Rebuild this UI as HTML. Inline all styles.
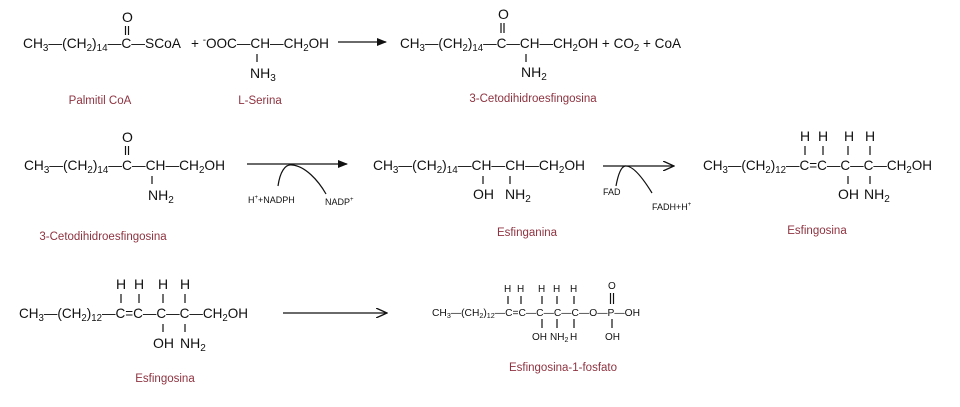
<!DOCTYPE html>
<html><head><meta charset="utf-8"><style>
html,body{margin:0;padding:0;background:#fff;width:960px;height:407px;overflow:hidden}
svg{display:block}
text{font-family:"Liberation Sans",sans-serif;fill:#111}
.m{font-size:14px}
.s{font-size:10px}
.lab{font-size:11.5px;fill:#8e3340}
.sm{font-size:9px}
.t{font-size:10px}
line,path{stroke:#111;stroke-width:1.2;fill:none}
</style></head><body>
<svg width="960" height="407" viewBox="0 0 960 407">
<defs><marker id="ah" markerWidth="10" markerHeight="8" refX="9" refY="4" orient="auto" markerUnits="userSpaceOnUse"><path d="M0,0 L10,4 L0,8 z" style="fill:#111;stroke:none"/></marker>
<marker id="ao" markerWidth="12" markerHeight="10" refX="11" refY="5" orient="auto" markerUnits="userSpaceOnUse"><path d="M0,0 L11,5 L0,10" style="fill:none;stroke:#111;stroke-width:1.3"/></marker></defs>

<!-- Row 1 -->
<text class="m" x="23" y="48" textLength="158" lengthAdjust="spacingAndGlyphs">CH<tspan class="s" dy="3">3</tspan><tspan dy="-3">—(CH</tspan><tspan class="s" dy="3">2</tspan><tspan dy="-3">)</tspan><tspan class="s" dy="3">14</tspan><tspan dy="-3">—C—SCoA</tspan></text>
<text class="m" x="122" y="22">O</text>
<line x1="125.5" y1="26" x2="125.5" y2="35"/><line x1="128.5" y1="26" x2="128.5" y2="35"/>
<text class="m" x="191" y="48" textLength="138" lengthAdjust="spacingAndGlyphs">+ <tspan class="s" dy="-5">-</tspan><tspan dy="5">OOC—CH—CH</tspan><tspan class="s" dy="3">2</tspan><tspan dy="-3">OH</tspan></text>
<line x1="257" y1="54" x2="257" y2="62"/>
<text class="m" x="250" y="78">NH<tspan class="s" dy="3">3</tspan></text>
<line x1="338" y1="42" x2="386" y2="42" marker-end="url(#ah)"/>
<text class="m" x="400" y="48" textLength="281" lengthAdjust="spacingAndGlyphs">CH<tspan class="s" dy="3">3</tspan><tspan dy="-3">—(CH</tspan><tspan class="s" dy="3">2</tspan><tspan dy="-3">)</tspan><tspan class="s" dy="3">14</tspan><tspan dy="-3">—C—CH—CH</tspan><tspan class="s" dy="3">2</tspan><tspan dy="-3">OH + CO</tspan><tspan class="s" dy="3">2</tspan><tspan dy="-3"> + CoA</tspan></text>
<text class="m" x="498" y="19">O</text>
<line x1="501" y1="23" x2="501" y2="33"/><line x1="504" y1="23" x2="504" y2="33"/>
<line x1="526" y1="54" x2="526" y2="62"/>
<text class="m" x="521" y="77">NH<tspan class="s" dy="3">2</tspan></text>
<text class="lab" x="100" y="104" text-anchor="middle">Palmitil CoA</text>
<text class="lab" x="260" y="104" text-anchor="middle">L-Serina</text>
<text class="lab" x="533" y="102" text-anchor="middle">3-Cetodihidroesfingosina</text>

<!-- Row 2 -->
<text class="m" x="24" y="170" textLength="201" lengthAdjust="spacingAndGlyphs">CH<tspan class="s" dy="3">3</tspan><tspan dy="-3">—(CH</tspan><tspan class="s" dy="3">2</tspan><tspan dy="-3">)</tspan><tspan class="s" dy="3">14</tspan><tspan dy="-3">—C—CH—CH</tspan><tspan class="s" dy="3">2</tspan><tspan dy="-3">OH</tspan></text>
<text class="m" x="122" y="142">O</text>
<line x1="125.5" y1="146" x2="125.5" y2="155"/><line x1="128.5" y1="146" x2="128.5" y2="155"/>
<line x1="152" y1="176" x2="152" y2="184"/>
<text class="m" x="148" y="200">NH<tspan class="s" dy="3">2</tspan></text>
<line x1="247" y1="164" x2="347" y2="164" marker-end="url(#ah)"/>
<path d="M278,186 C280,172 285,164 292,165 C305,166 318,180 326,194"/>
<text class="sm" x="248" y="203">H<tspan dy="-4" font-size="6">+</tspan><tspan dy="4">+NADPH</tspan></text>
<text class="sm" x="325" y="205">NADP<tspan dy="-4" font-size="6">+</tspan></text>
<text class="m" x="373" y="170" textLength="212" lengthAdjust="spacingAndGlyphs">CH<tspan class="s" dy="3">3</tspan><tspan dy="-3">—(CH</tspan><tspan class="s" dy="3">2</tspan><tspan dy="-3">)</tspan><tspan class="s" dy="3">14</tspan><tspan dy="-3">—CH—CH—CH</tspan><tspan class="s" dy="3">2</tspan><tspan dy="-3">OH</tspan></text>
<line x1="483" y1="176" x2="483" y2="184"/><line x1="510" y1="176" x2="510" y2="184"/>
<text class="m" x="473" y="199">OH</text>
<text class="m" x="505" y="199">NH<tspan class="s" dy="3">2</tspan></text>
<text class="lab" x="103" y="240" text-anchor="middle">3-Cetodihidroesfingosina</text>
<text class="lab" x="527" y="236" text-anchor="middle">Esfinganina</text>
<line x1="603" y1="166" x2="674" y2="166" marker-end="url(#ao)"/>
<path d="M616,186 C618,175 621,167 625,166 C633,165 644,180 652,193"/>
<text class="sm" x="603" y="195">FAD</text>
<text class="sm" x="652" y="210">FADH+H<tspan dy="-4" font-size="6">+</tspan></text>
<text class="m" x="703" y="170" textLength="229" lengthAdjust="spacingAndGlyphs">CH<tspan class="s" dy="3">3</tspan><tspan dy="-3">—(CH</tspan><tspan class="s" dy="3">2</tspan><tspan dy="-3">)</tspan><tspan class="s" dy="3">12</tspan><tspan dy="-3">—C=C—C—C—CH</tspan><tspan class="s" dy="3">2</tspan><tspan dy="-3">OH</tspan></text>
<g class="m"><text class="m" x="800" y="141">H</text><text class="m" x="818" y="141">H</text><text class="m" x="844" y="141">H</text><text class="m" x="865" y="141">H</text></g>
<line x1="805" y1="146" x2="805" y2="155"/><line x1="823" y1="146" x2="823" y2="155"/><line x1="848" y1="146" x2="848" y2="155"/><line x1="870" y1="146" x2="870" y2="155"/>
<line x1="848" y1="176" x2="848" y2="184"/><line x1="870" y1="176" x2="870" y2="184"/>
<text class="m" x="838" y="199">OH</text>
<text class="m" x="864" y="199">NH<tspan class="s" dy="3">2</tspan></text>
<text class="lab" x="817" y="234" text-anchor="middle">Esfingosina</text>

<!-- Row 3 -->
<text class="m" x="19" y="318" textLength="229" lengthAdjust="spacingAndGlyphs">CH<tspan class="s" dy="3">3</tspan><tspan dy="-3">—(CH</tspan><tspan class="s" dy="3">2</tspan><tspan dy="-3">)</tspan><tspan class="s" dy="3">12</tspan><tspan dy="-3">—C=C—C—C—CH</tspan><tspan class="s" dy="3">2</tspan><tspan dy="-3">OH</tspan></text>
<text class="m" x="116" y="289">H</text><text class="m" x="134" y="289">H</text><text class="m" x="158" y="289">H</text><text class="m" x="180" y="289">H</text>
<line x1="121" y1="294" x2="121" y2="303"/><line x1="139" y1="294" x2="139" y2="303"/><line x1="163" y1="294" x2="163" y2="303"/><line x1="185" y1="294" x2="185" y2="303"/>
<line x1="163" y1="324" x2="163" y2="332"/><line x1="185" y1="324" x2="185" y2="332"/>
<text class="m" x="153" y="348">OH</text>
<text class="m" x="180" y="348">NH<tspan class="s" dy="3">2</tspan></text>
<text class="lab" x="165" y="382" text-anchor="middle">Esfingosina</text>
<line x1="283" y1="313" x2="387" y2="313" marker-end="url(#ao)"/>

<text class="t" x="432" y="316" textLength="208" lengthAdjust="spacingAndGlyphs">CH<tspan font-size="7" dy="2">3</tspan><tspan dy="-2">—(CH</tspan><tspan font-size="7" dy="2">2</tspan><tspan dy="-2">)</tspan><tspan font-size="7" dy="2">12</tspan><tspan dy="-2">—C=C—C—C—C—O—P—OH</tspan></text>
<text class="t" x="504" y="292">H</text><text class="t" x="517" y="292">H</text><text class="t" x="538" y="292">H</text><text class="t" x="553" y="292">H</text><text class="t" x="570" y="292">H</text>
<text class="t" x="608" y="289">O</text>
<line x1="508" y1="296" x2="508" y2="304"/><line x1="521" y1="296" x2="521" y2="304"/><line x1="542" y1="296" x2="542" y2="304"/><line x1="557" y1="296" x2="557" y2="304"/><line x1="574" y1="296" x2="574" y2="304"/>
<line x1="610.5" y1="293" x2="610.5" y2="304"/><line x1="613.5" y1="293" x2="613.5" y2="304"/>
<line x1="542" y1="319" x2="542" y2="328"/><line x1="557" y1="319" x2="557" y2="328"/><line x1="574" y1="319" x2="574" y2="328"/><line x1="612" y1="319" x2="612" y2="328"/>
<text class="t" x="532" y="340">OH</text>
<text class="t" x="550" y="340">NH<tspan font-size="7" dy="2">2</tspan></text>
<text class="t" x="570" y="340">H</text>
<text class="t" x="605" y="340">OH</text>
<text class="lab" x="563" y="371" text-anchor="middle">Esfingosina-1-fosfato</text>
</svg>
</body></html>
